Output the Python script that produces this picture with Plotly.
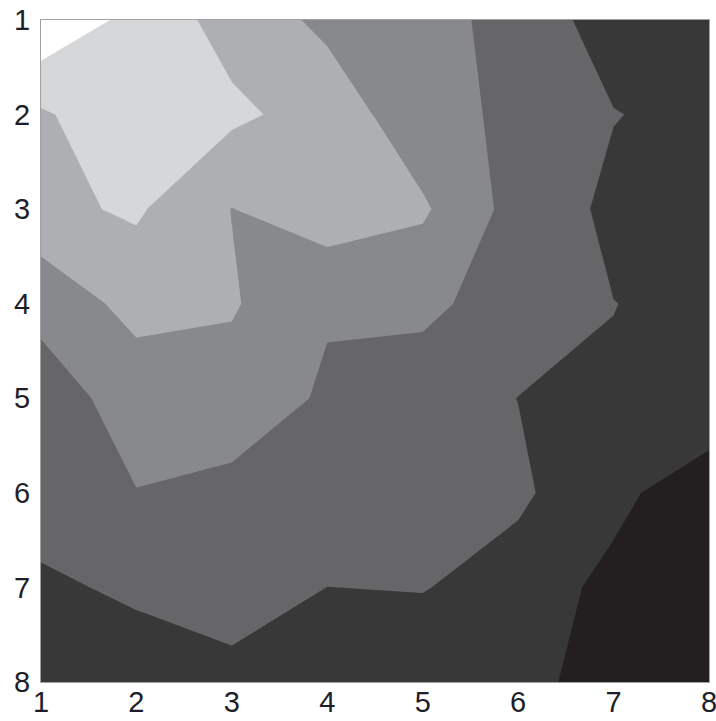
import plotly.graph_objects as go

# Grid coordinates (columns along x, rows along y)
x_vals = [1, 2, 3, 4, 5, 6, 7, 8]
y_vals = [1, 2, 3, 4, 5, 6, 7, 8]

# Field values, one list per row (y = 1 at the top)
row1 = [7.36, 6.17, 5.12, 4.27, 4.00, 3.02, 2.11, 2.00]
row2 = [5.36, 6.29, 5.70, 5.10, 3.84, 3.30, 2.53, 2.26]
row3 = [5.27, 5.63, 4.48, 5.11, 4.64, 3.12, 2.30, 2.10]
row4 = [3.73, 4.87, 4.60, 3.59, 3.73, 3.01, 2.51, 2.31]
row5 = [3.12, 3.84, 4.07, 3.37, 2.96, 2.49, 2.43, 2.40]
row6 = [3.00, 3.48, 3.23, 3.10, 2.95, 2.66, 1.80, 0.76]
row7 = [2.32, 2.67, 2.90, 2.495, 2.54, 2.11, 1.20, 0.90]
row8 = [1.90, 1.96, 2.25, 2.10, 1.87, 1.90, 0.95, 0.60]
z = [row1, row2, row3, row4, row5, row6, row7, row8]

# Contour levels and one gray per filled band (lowest band first)
level_start, level_end, level_step = 1.5, 6.5, 1.0
band_colors = ["#231f20", "#383838", "#666668", "#88898c",
               "#aeafb2", "#d6d7d9", "#ffffff"]

tick_vals = [1, 2, 3, 4, 5, 6, 7, 8]
tick_text = ["1", "2", "3", "4", "5", "6", "7", "8"]

n = len(band_colors)
colorscale = [[i / (n - 1), c] for i, c in enumerate(band_colors)]

fig = go.Figure(
    go.Contour(
        x=x_vals,
        y=y_vals,
        z=z,
        autocontour=False,
        contours=dict(start=level_start, end=level_end, size=level_step,
                      coloring="fill", showlines=False),
        colorscale=colorscale,
        line=dict(width=0, smoothing=0),
        showscale=False,
        hoverinfo="skip",
    )
)

axis_common = dict(
    showgrid=False,
    zeroline=False,
    showline=True,
    mirror=True,
    linecolor="#a0a0a0",
    linewidth=1,
    ticks="",
    automargin=False,
    ticklabeloverflow="allow",
    tickvals=tick_vals,
    ticktext=tick_text,
    tickfont=dict(family="Liberation Sans, Arial, sans-serif", size=29,
                  color="#1e1e28"),
)

fig.update_xaxes(range=[1, 8], ticklabelstandoff=-6, **axis_common)
fig.update_yaxes(range=[8, 1], ticklabelstandoff=4, **axis_common)

fig.update_layout(
    width=716,
    height=721,
    margin=dict(l=41, r=7, t=20, b=39, pad=0),
    paper_bgcolor="white",
    plot_bgcolor="white",
    showlegend=False,
)

fig.write_html("out.html")
